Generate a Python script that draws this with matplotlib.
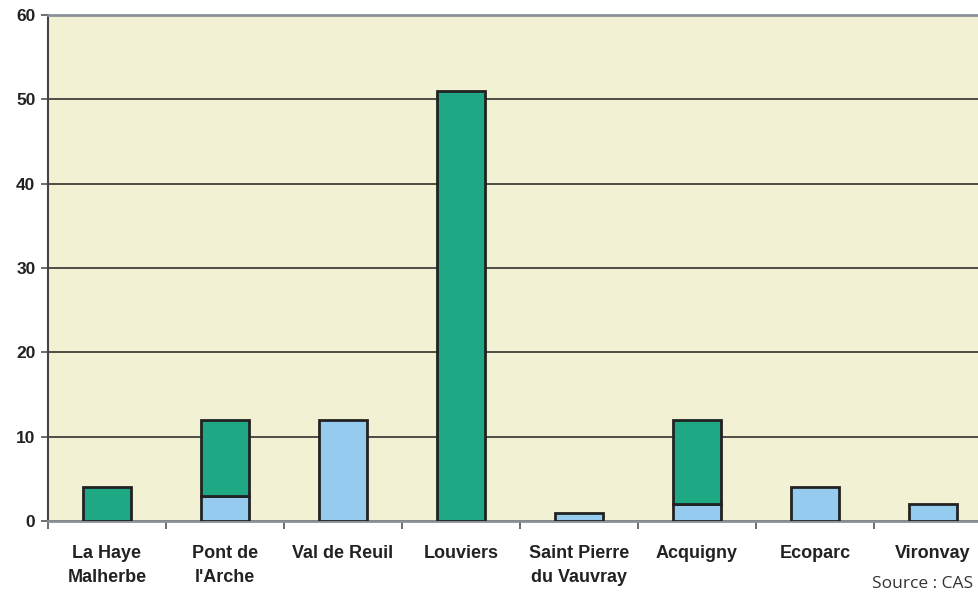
import numpy as np
import matplotlib.pyplot as plt

# --- DATA ---
communes = ["La Haye\nMalherbe", "Pont de\nl'Arche", "Val de Reuil", "Louviers",
            "Saint Pierre\ndu Vauvray", "Acquigny", "Ecoparc", "Vironvay"]
blue_vals = [0, 3, 12, 0, 1, 2, 4, 2]
green_vals = [4, 9, 0, 51, 0, 10, 0, 0]
y_ticks = [0, 10, 20, 30, 40, 50, 60]

BG = '#f3f1d4'
GREEN = '#1fa884'
BLUE = '#94cbee'

plt.rcParams['font.family'] = ['Liberation Sans', 'DejaVu Sans']

fig = plt.figure(figsize=(9.79, 5.92), dpi=100)
ax = fig.add_axes([48 / 979, 71 / 592, 944 / 979, 506 / 592])
ax.set_facecolor(BG)

x = np.arange(len(communes))
w = 0.41
for i in x:
    if blue_vals[i] > 0:
        ax.bar(i, blue_vals[i], w, color=BLUE, edgecolor='#222222', linewidth=2, zorder=3)
    if green_vals[i] > 0:
        ax.bar(i, green_vals[i], w, bottom=blue_vals[i], color=GREEN,
               edgecolor='#222222', linewidth=2, zorder=3)

ax.set_xlim(-0.5, len(communes) - 0.5)
ax.set_ylim(0, 60)
ax.set_yticks(y_ticks)
ax.set_yticklabels([str(v) for v in y_ticks], fontsize=12.5, fontweight='bold', color='#222222')
ax.yaxis.grid(True, color='#222222', linewidth=1.1, zorder=1)
ax.set_axisbelow(True)

ax.set_xticks(x)
ax.set_xticklabels(communes, fontsize=13, fontweight='bold', color='#222222',
                   va='top', linespacing=1.55)
ax.tick_params(axis='x', which='major', length=0, pad=17)
ax.set_xticks(np.arange(-0.5, len(communes)), minor=True)
ax.tick_params(axis='x', which='minor', length=6, width=1.2, color='#555555', direction='out')
ax.tick_params(axis='y', length=5, width=1.2, color='#555555', direction='out', pad=4)

for s in ['top', 'bottom']:
    ax.spines[s].set_color('#8a9098')
    ax.spines[s].set_linewidth(2)
ax.spines['left'].set_color('#444444')
ax.spines['left'].set_linewidth(1.5)
ax.spines['right'].set_visible(False)

fig.text(872 / 979, 0 / 592, "Source : CAS", fontsize=12.5, color='#333333',
         family=['Open Sans', 'DejaVu Sans'], ha='left', va='bottom')

fig.savefig('out.png', dpi=100, facecolor='white')
